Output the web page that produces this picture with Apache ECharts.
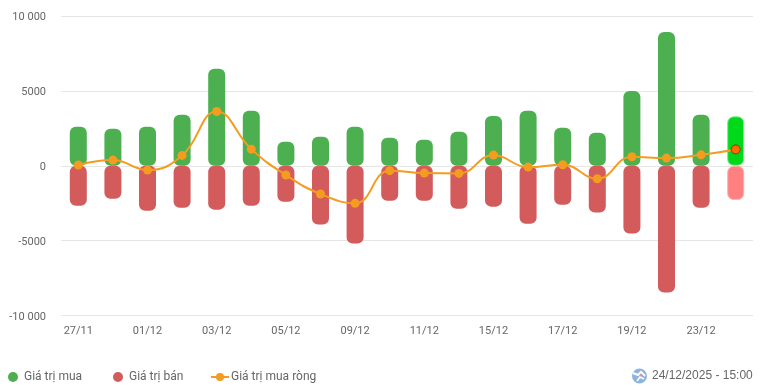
<!DOCTYPE html>
<html>
<head>
<meta charset="utf-8">
<style>html,body{margin:0;padding:0;background:#fff}#c{width:761px;height:390px}</style>
<script src="https://cdn.jsdelivr.net/npm/echarts@6/dist/echarts.min.js"></script>
</head>
<body>
<div id="c"></div>
<script>
const categories = ['27/11','28/11','01/12','02/12','03/12','04/12','05/12','08/12','09/12','10/12','11/12','12/12','15/12','16/12','17/12','18/12','19/12','22/12','23/12','24/12'];
const buyValues = [2600,2470,2600,3400,6470,3670,1600,1930,2600,1870,1730,2270,3330,3670,2530,2200,5000,8930,3400,3300];
const sellValues = [-2670,-2200,-3000,-2800,-2930,-2670,-2400,-3930,-5200,-2330,-2330,-2870,-2730,-3870,-2600,-3130,-4530,-8470,-2800,-2290];
const netValues = [50,380,-290,690,3620,1110,-620,-1890,-2510,-330,-490,-510,710,-90,67,-870,600,510,730,1090];
const seriesNames = ['Giá trị mua','Giá trị bán','Giá trị mua ròng'];
const stampText = '24/12/2025 - 15:00';
const FONT = 'Roboto';
const last = categories.length - 1;
const chart = echarts.init(document.getElementById('c'), null, {renderer:'canvas'});
chart.setOption({
  animation:false,
  backgroundColor:'#fff',
  textStyle:{fontFamily:FONT},
  grid:{left:61,right:8,top:16,height:299.5,containLabel:false},
  legend:[
    {data:[seriesNames[0]],left:3,top:366,itemWidth:10,itemHeight:10,icon:'circle',
     textStyle:{fontFamily:FONT,fontSize:12,color:'#666',padding:[0,0,0,1]}},
    {data:[seriesNames[1]],left:108,top:366,itemWidth:10,itemHeight:10,icon:'circle',
     textStyle:{fontFamily:FONT,fontSize:12,color:'#666',padding:[0,0,0,1]}},
    {data:[seriesNames[2]],left:205,top:366,itemWidth:18,itemHeight:10,
     textStyle:{fontFamily:FONT,fontSize:12,color:'#666',padding:[0,0,0,-3]}}
  ],
  xAxis:{type:'category',data:categories,
    axisLine:{show:false},axisTick:{show:false},
    axisLabel:{interval:1,fontFamily:FONT,fontSize:11,color:'#666',margin:10},
    splitLine:{show:false}},
  yAxis:{type:'value',min:-10000,max:10000,interval:5000,
    axisLine:{show:false},axisTick:{show:false},
    axisLabel:{fontFamily:FONT,fontSize:11,color:'#666',margin:15,
      rich:{l:{fontFamily:FONT,fontSize:11,color:'#666',padding:[3,0,0,0]}},
      formatter:v=>'{l|'+(Math.abs(v)>=10000?String(v).replace(/(\d+)(\d{3})$/,'$1 $2'):String(v))+'}'},
    splitLine:{lineStyle:{color:'#e6e6e6',width:1}}},
  series:[
    {name:seriesNames[0],type:'bar',barWidth:17,barGap:'-100%',
     itemStyle:{color:'#4caf50',borderRadius:6},
     data:buyValues.map((v,i)=>i===last?{value:v,itemStyle:{color:'#00d919',borderColor:'#7eea8a',borderWidth:1}}:v)},
    {name:seriesNames[1],type:'bar',barWidth:17,barGap:'-100%',
     itemStyle:{color:'#d45b5b',borderRadius:6},
     data:sellValues.map((v,i)=>i===last?{value:v,itemStyle:{color:'#ff8080',borderColor:'#ffb0b0',borderWidth:1}}:v)},
    {name:seriesNames[2],type:'line',smooth:0.45,symbol:'circle',symbolSize:9,
     lineStyle:{color:'#f39c1f',width:2},itemStyle:{color:'#f39c1f'},z:5,
     data:netValues.map((v,i)=>i===last?{value:v,itemStyle:{color:'#ff6a00',borderColor:'#8a3a00',borderWidth:1}}:v)}
  ],
  graphic:[
    {type:'line',shape:{x1:61,y1:315.5,x2:753,y2:315.5},style:{stroke:'#ccd6eb',lineWidth:1},silent:true},
    {type:'circle',shape:{cx:639.5,cy:376,r:7.5},style:{fill:'#8db4dc'},silent:true},
    {type:'polyline',shape:{points:[[633,373],[638,375],[641,372],[645,376]]},style:{stroke:'#fff',lineWidth:2,fill:null},silent:true},
    {type:'polyline',shape:{points:[[637,381],[640,377],[644,379]]},style:{stroke:'#fff',lineWidth:1.5,fill:null},silent:true},
    {type:'polyline',shape:{points:[[640,374],[643,376]]},style:{stroke:'#e08a96',lineWidth:1.2,fill:null},silent:true},
    {type:'text',left:652,top:370,style:{text:stampText,fontFamily:'Liberation Sans',fontSize:12,fill:'#666'}}
  ]
});
</script>
</body>
</html>
